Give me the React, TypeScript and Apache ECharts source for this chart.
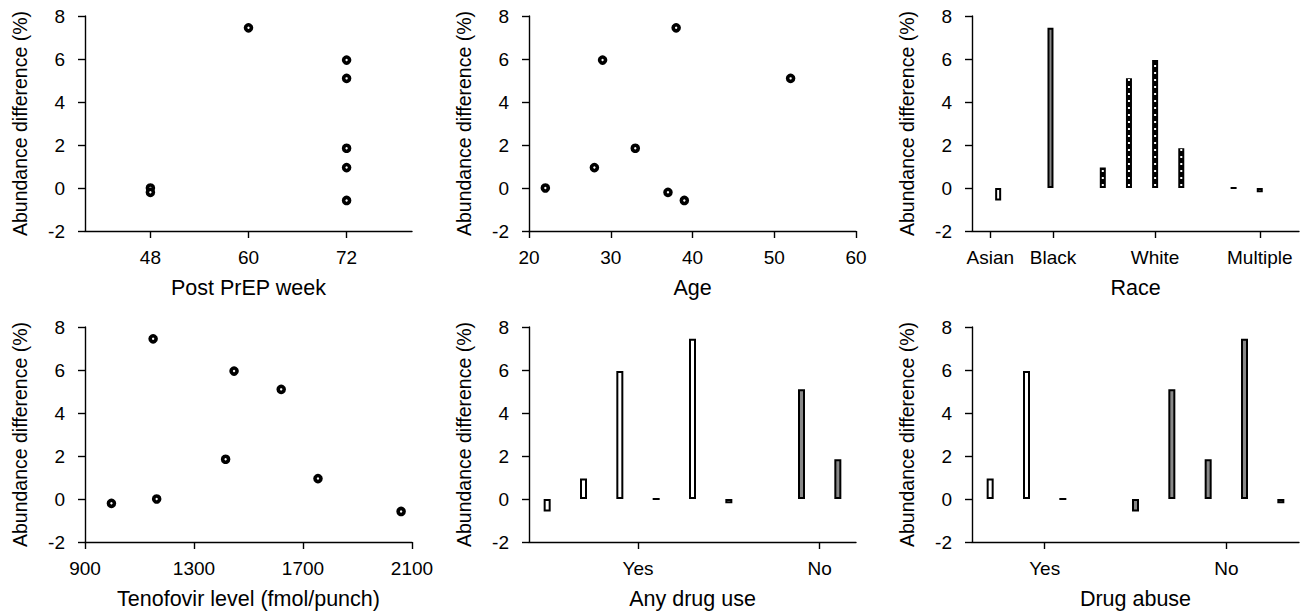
import React, { useEffect, useRef } from "react";
import * as echarts from "echarts";

// ---- data (one entry per subject) ----
const abundance = [7.45, 5.95, 5.1, 1.85, 0.95, 0, -0.2, -0.58];
const postPrepWeek = [60, 72, 72, 72, 72, 48, 48, 72];
const age = [38, 29, 52, 33, 28, 22, 37, 39];
const tenofovir = [1150, 1447, 1620, 1416, 1755, 1163, 997, 2060];

// ---- bar panels: groups in display order ----
const raceGroups = ["Asian", "Black", "White", "Multiple"];
const raceValues = [[-0.58], [7.45], [0.95, 5.1, 5.95, 1.85], [0, -0.2]];
const drugUseGroups = ["Yes", "No"];
const drugUseValues = [[-0.58, 0.95, 5.95, 0, 7.45, -0.2], [5.1, 1.85]];
const drugAbuseGroups = ["Yes", "No"];
const drugAbuseValues = [[0.95, 5.95, 0], [-0.58, 5.1, 1.85, 7.45, -0.2]];

// ---- tick values ----
const yTicks = [-2, 0, 2, 4, 6, 8];
const weekTicks = [48, 60, 72];
const ageTicks = [20, 30, 40, 50, 60];
const tenofovirTicks = [900, 1300, 1700, 2100];
const raceTickSlots = [0.2, 2.6, 6.5, 10.5];
const drugUseTickSlots = [3, 8];
const drugAbuseTickSlots = [2, 7];

const FONT = "'Liberation Sans', Arial, Helvetica, sans-serif";
const GRID_W = 327;
const GRID_H = 215;
const gridPos = [
  [85, 16], [529, 16], [972, 16],
  [85, 327], [529, 327], [972, 327],
];

function layoutGroups(values: number[][]) {
  const out: { slot: number; value: number; group: number }[] = [];
  let pos = 0.5;
  values.forEach((g, gi) => {
    g.forEach((v) => {
      out.push({ slot: pos, value: v, group: gi });
      pos += 1;
    });
    pos += 1;
  });
  return out;
}

const axisLine = { show: true, onZero: false, lineStyle: { color: "#000", width: 1.4 } };
const axisTick = { show: true, length: 7, lineStyle: { color: "#000", width: 1.4 } };

function xAxisDef(gridIndex: number, name: string, min: number, max: number, ticks: number[], fmt?: (v: number) => string) {
  return {
    type: "value",
    gridIndex,
    min,
    max,
    name,
    nameLocation: "middle",
    nameGap: 46,
    nameTextStyle: { color: "#000", fontSize: 21.5, fontFamily: FONT },
    axisLine,
    axisTick: { ...axisTick, customValues: ticks },
    axisLabel: {
      color: "#000",
      fontSize: 19,
      fontFamily: FONT,
      margin: 17,
      customValues: ticks,
      formatter: fmt ? (v: number) => fmt(v) : (v: number) => String(v),
    },
    splitLine: { show: false },
  };
}

function yAxisDef(gridIndex: number) {
  return {
    type: "value",
    gridIndex,
    min: -2,
    max: 8,
    interval: 2,
    name: "Abundance difference (%)",
    nameLocation: "middle",
    nameGap: 55,
    nameTextStyle: { color: "#000", fontSize: 19.5, fontFamily: FONT },
    axisLine,
    axisTick: { ...axisTick, customValues: yTicks },
    axisLabel: { color: "#000", fontSize: 19, fontFamily: FONT, margin: 20, customValues: yTicks },
    splitLine: { show: false },
  };
}

const labelFrom = (slots: number[], names: string[]) => (v: number) => {
  const i = slots.findIndex((t) => Math.abs(t - v) < 1e-6);
  return i >= 0 ? names[i] : "";
};

const scatterStyle = {
  symbol: "circle",
  symbolSize: 6,
  itemStyle: { color: "#fff", borderColor: "#000", borderWidth: 3.6, opacity: 1 },
};

function barSeries(idx: number, items: { slot: number; value: number; group: number }[], fills: string[], barWidth: number) {
  return {
    type: "bar",
    xAxisIndex: idx,
    yAxisIndex: idx,
    barWidth,
    z: 2,
    data: items.map((it) => ({
      value: [it.slot, it.value],
      itemStyle: { color: fills[it.group], borderColor: "#000", borderWidth: 2 },
    })),
  };
}

export default function App() {
  const ref = useRef<HTMLDivElement>(null);
  useEffect(() => {
    if (!ref.current) return;
    const chart = echarts.init(ref.current, undefined, { renderer: "svg" });

    const raceItems = layoutGroups(raceValues);
    const useItems = layoutGroups(drugUseValues);
    const abuseItems = layoutGroups(drugAbuseValues);

    const whiteGroup = raceGroups.indexOf("White");
    const dotSeries = raceItems
      .filter((it) => it.group === whiteGroup)
      .map((it) => ({
        type: "line",
        xAxisIndex: 2,
        yAxisIndex: 2,
        symbol: "none",
        z: 5,
        silent: true,
        lineStyle: { color: "#fff", width: 2, type: [2, 5], dashOffset: 5, cap: "butt" },
        data: [
          [it.slot, 0],
          [it.slot, it.value],
        ],
      }));

    chart.setOption({
      animation: false,
      grid: gridPos.map(([l, t]) => ({ left: l, top: t, width: GRID_W, height: GRID_H, containLabel: false })),
      xAxis: [
        xAxisDef(0, "Post PrEP week", 40, 80, weekTicks),
        xAxisDef(1, "Age", 20, 60, ageTicks),
        xAxisDef(2, "Race", -0.5, 12, raceTickSlots, labelFrom(raceTickSlots, raceGroups)),
        xAxisDef(3, "Tenofovir level (fmol/punch)", 900, 2100, tenofovirTicks),
        xAxisDef(4, "Any drug use", 0, 9, drugUseTickSlots, labelFrom(drugUseTickSlots, drugUseGroups)),
        xAxisDef(5, "Drug abuse", 0, 9, drugAbuseTickSlots, labelFrom(drugAbuseTickSlots, drugAbuseGroups)),
      ],
      yAxis: [0, 1, 2, 3, 4, 5].map((i) => yAxisDef(i)),
      series: [
        { type: "scatter", xAxisIndex: 0, yAxisIndex: 0, ...scatterStyle, data: postPrepWeek.map((w, i) => [w, abundance[i]]) },
        { type: "scatter", xAxisIndex: 1, yAxisIndex: 1, ...scatterStyle, data: age.map((a, i) => [a, abundance[i]]) },
        barSeries(2, raceItems, ["#fff", "#888", "#000", "#fff"], 6),
        ...dotSeries,
        { type: "scatter", xAxisIndex: 3, yAxisIndex: 3, ...scatterStyle, data: tenofovir.map((t, i) => [t, abundance[i]]) },
        barSeries(4, useItems, ["#fff", "#888"], 7),
        barSeries(5, abuseItems, ["#fff", "#888"], 7),
      ],
    });
    return () => chart.dispose();
  }, []);
  return (
    <div
      ref={ref}
      style={{ position: "absolute", left: 0, top: 0, width: 1311, height: 614, background: "#fff" }}
    />
  );
}
